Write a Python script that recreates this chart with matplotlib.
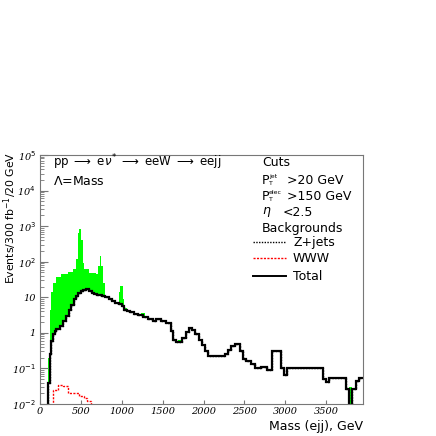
import matplotlib
matplotlib.use('Agg')
import matplotlib.pyplot as plt
import numpy as np

plt.rcParams['mathtext.fontset'] = 'dejavusans'

# --- histogram data (GeV edges, events / 300 fb^-1) ---
tot_edges = [0, 100, 120, 140, 160, 180, 200, 240, 280, 320, 350, 380, 410, 440,
             470, 500, 530, 560, 600, 630, 660, 700, 760, 800, 840, 880, 920,
             960, 1000, 1030, 1060, 1100, 1150, 1200, 1260, 1320, 1380, 1420,
             1480, 1540, 1600, 1630, 1660, 1740, 1780, 1820, 1860, 1900, 1940,
             1980, 2020, 2060, 2260, 2300, 2340, 2380, 2440, 2480, 2520, 2580,
             2630, 2700, 2780, 2840, 2950, 2980, 3020, 3460, 3500, 3540, 3740,
             3780, 3820, 3860, 3900, 3950]
tot_vals = [1e-4, 0.04, 0.25, 0.6, 0.9, 1.1, 1.3, 1.6, 2.2, 3.0, 4.5, 6.0, 9.0,
            11, 13, 15, 16, 17, 15, 13, 12, 11.5, 11, 10, 9, 8, 7, 6.5, 5.8,
            4.5, 4.0, 3.8, 3.4, 3.1, 2.8, 2.5, 2.2, 2.4, 2.1, 1.9, 1.1, 0.65,
            0.55, 0.7, 1.05, 1.35, 1.2, 0.9, 0.65, 0.45, 0.3, 0.22, 0.25, 0.33,
            0.42, 0.5, 0.3, 0.19, 0.16, 0.13, 0.1, 0.11, 0.09, 0.3, 0.1, 0.065,
            0.1, 0.052, 0.042, 0.053, 0.027, 1e-4, 0.027, 0.045, 0.053]
zjets_vals = tot_vals  # Z+jets dominates the total

sig_edges = [0, 80, 100, 120, 140, 160, 200, 260, 340, 400, 440, 460, 480, 500,
             520, 540, 600, 680, 710, 730, 750, 770, 790, 960, 980, 1010, 1030,
             1060, 1230, 1290, 1690, 1720, 3780, 3820, 3950]
sig_vals = [1e-4, 0.04, 0.2, 4.5, 14, 25, 38, 44, 50, 62, 120, 650, 840, 420, 94,
            62, 48, 44, 75, 145, 75, 26, 1e-4, 14, 21, 9, 5, 1e-4, 3.6, 1e-4,
            0.65, 1e-4, 0.03, 1e-4]

www_edges = [0, 160, 220, 280, 340, 440, 480, 540, 580, 620, 3950]
www_vals = [1e-4, 0.025, 0.035, 0.033, 0.021, 0.02, 0.017, 0.0145, 0.012, 1e-4]

fig = plt.figure(figsize=(4.36, 4.36), dpi=100)
fig.patch.set_facecolor('white')
ax = fig.add_axes([40/436, 32/436, 323/436, 249/436])
ax.set_yscale('log')

# signal + background (green), then blank out below total
ax.stairs(sig_vals, sig_edges, baseline=1e-4, fill=True, color='#00ff00', lw=0)
ax.stairs(tot_vals, tot_edges, baseline=1e-4, fill=True, color='white', lw=0)
ax.stairs(zjets_vals, tot_edges, baseline=None, color='black', lw=1.0, ls=(0, (1, 1)))
ax.stairs(tot_vals, tot_edges, baseline=None, color='black', lw=1.6)
ax.stairs(www_vals, www_edges, baseline=None, color='red', lw=1.0, ls=(0, (1.5, 1)))

ax.set_xlim(0, 3950)
ax.set_ylim(1e-2, 1e5)

for s in ax.spines.values():
    s.set_color('#777777')
    s.set_linewidth(0.8)

ax.set_xticks([0, 500, 1000, 1500, 2000, 2500, 3000, 3500])
ax.set_xticklabels(['0', '500', '1000', '1500', '2000', '2500', '3000', '3500'],
                   family='DejaVu Serif', style='italic', fontsize=7)
ax.tick_params(axis='x', direction='in', length=3, color='#777777', pad=2)
yt = [1e-2, 1e-1, 1, 10, 1e2, 1e3, 1e4, 1e5]
ylab = [r'10$^{-2}$', r'10$^{-1}$', '1', '10', r'10$^{2}$', r'10$^{3}$',
        r'10$^{4}$', r'10$^{5}$']
ax.set_yticks(yt)
ax.set_yticklabels(ylab, family='DejaVu Serif', style='italic', fontsize=7)
ax.tick_params(axis='y', which='major', direction='in', length=6,
               color='#777777', pad=3)
ax.tick_params(axis='y', which='minor', direction='in', length=3,
               color='#777777')
ax.tick_params(axis='x', which='minor', bottom=False)


def axpos(xpx, ypx):
    return (xpx - 40) / 323, (404 - ypx) / 249


fs = 9
# process annotation
ax.text(*axpos(53, 162),
        r'pp $\longrightarrow$ e$\nu^{*}$ $\longrightarrow$ eeW $\longrightarrow$ eejj',
        transform=ax.transAxes, fontsize=8.5, va='center')
ax.text(*axpos(53, 181), r'$\Lambda$=Mass', transform=ax.transAxes,
        fontsize=fs, va='center')

# cuts block
ax.text(*axpos(262, 162), 'Cuts', transform=ax.transAxes, fontsize=fs, va='center')
for ypx, sup, rest in [(180, 'jet', '>20 GeV'), (196, 'elec', '>150 GeV')]:
    ax.text(*axpos(262, ypx), 'P', transform=ax.transAxes, fontsize=fs, va='center')
    ax.text(*axpos(269, ypx - 4), sup, transform=ax.transAxes, fontsize=4.5,
            va='center')
    ax.text(*axpos(269, ypx + 3), 'T', transform=ax.transAxes, fontsize=4.5,
            va='center')
    ax.text(*axpos(287, ypx), rest, transform=ax.transAxes, fontsize=fs,
            va='center')
ax.text(*axpos(262, 212), r'$\eta$', transform=ax.transAxes, fontsize=fs, va='center')
ax.text(*axpos(283, 212), '<2.5', transform=ax.transAxes, fontsize=fs, va='center')
ax.text(*axpos(262, 228), 'Backgrounds', transform=ax.transAxes,
        fontsize=fs, va='center')

# legend entries
entries = [('Z+jets', 'black', (0, (1, 1)), 1.0, 242),
           ('WWW', 'red', (0, (1.5, 1)), 1.0, 258),
           ('Total', 'black', '-', 1.4, 276)]
for lab, col, ls, lw, ypx in entries:
    x0, yy = axpos(253, ypx)
    x1, _ = axpos(286, ypx)
    ax.plot([x0, x1], [yy, yy], color=col, ls=ls, lw=lw, transform=ax.transAxes)
    ax.text(*axpos(293, ypx), lab, transform=ax.transAxes, fontsize=fs, va='center')

fig.text(10/436, 1 - 152/436, r'Events/300 fb$^{-1}$/20 GeV', rotation=90,
         fontsize=7.8, va='top', ha='center')
fig.text(363/436, 1 - 426/436, 'Mass (ejj), GeV', fontsize=9, ha='right',
         va='center')

fig.savefig('out.png', dpi=100, facecolor='white')
